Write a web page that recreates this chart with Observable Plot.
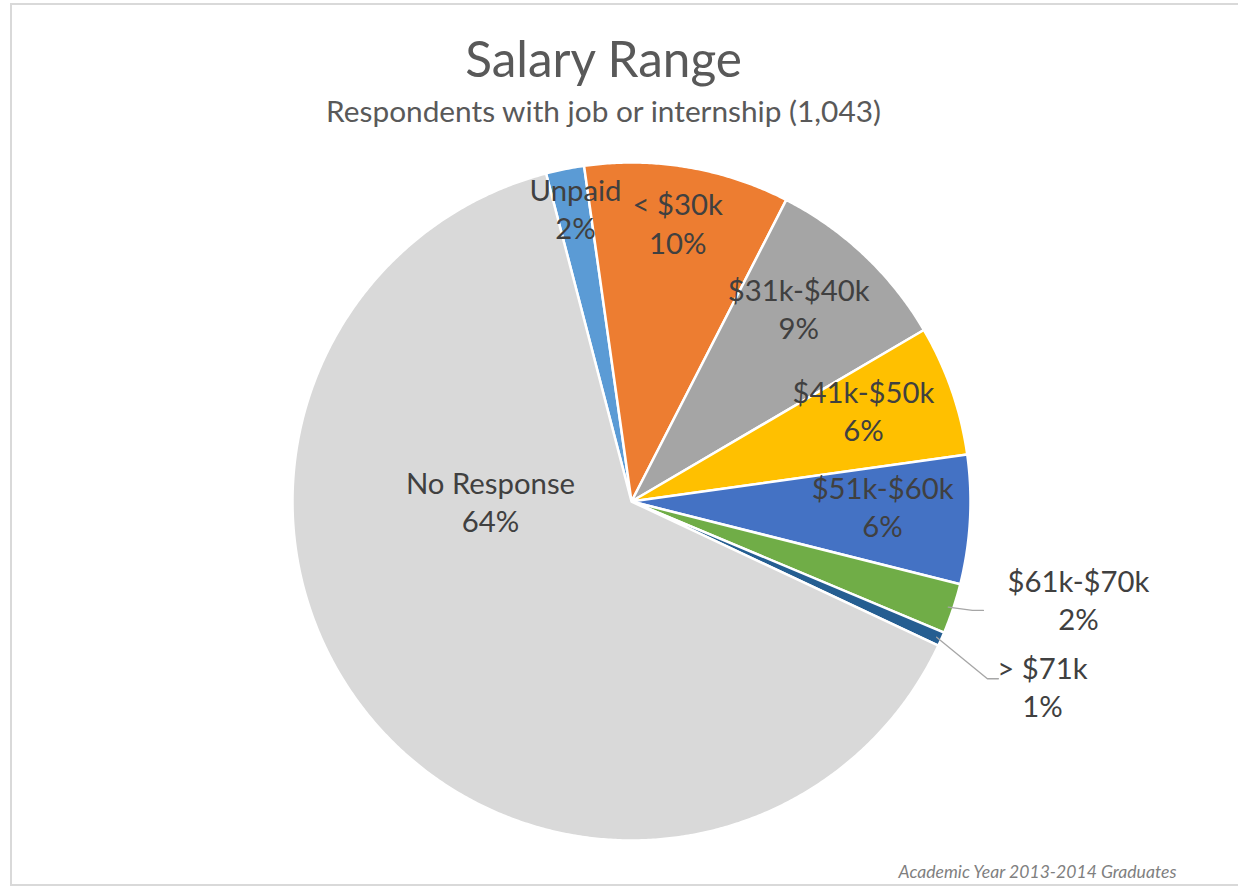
<!DOCTYPE html>
<html><head><meta charset="utf-8">
<script src="https://cdn.jsdelivr.net/npm/d3@7"></script>
<script src="https://cdn.jsdelivr.net/npm/@observablehq/plot@0.6"></script>
<style>
body{margin:0;background:#fff}
#wrap{position:relative;width:1238px;height:890px;overflow:hidden}
#border{position:absolute;left:10px;top:3px;width:1260px;height:883px;border:2px solid #d9d9d9;box-sizing:border-box;pointer-events:none}
#chart{position:absolute;left:0;top:0}
</style>
</head><body>
<div id="wrap"><div id="chart"></div><div id="border"></div></div>
<script>
// ---- data ----
const categories = ["Unpaid", "< $30k", "$31k-$40k", "$41k-$50k", "$51k-$60k", "$61k-$70k", "> $71k", "No Response"];
const counts = [19, 102, 94, 65, 64, 25, 7, 667]; // total 1,043
const percentLabels = ["2%", "10%", "9%", "6%", "6%", "2%", "1%", "64%"];
const colors = ["#5b9bd5", "#ed7d31", "#a5a5a5", "#ffc000", "#4472c4", "#70ad47", "#255e91", "#d9d9d9"];
const titleText = "Salary Range";
const subtitleText = "Respondents with job or internship (1,043)";
const captionText = "Academic Year 2013-2014 Graduates";

// ---- layout (label placement: radius fraction, angle in degrees clockwise from top) ----
const startAngleDeg = -14.6;
const labelPlacement = [
  {r: 0.873, a: -10.9}, {r: 0.826, a: 9.5}, {r: 0.749, a: 41.2}, {r: 0.733, a: 69.0},
  {r: 0.741, a: 91.6}, {r: 1.351, a: 102.6}, {r: 1.332, a: 114.5}, {r: 0.416, a: 269.2}
];
// leader lines (pixel offsets from label centre to elbow and end) for outside labels
const leaders = [
  {i: 5, elbow: [-106, 9], end: [-95, 9]},
  {i: 6, elbow: [-55, -10], end: [-44, -10]}
];

const R = 339; // px per unit
const toRad = d => d * Math.PI / 180;
const pt = (a, r) => [r * Math.sin(a), r * Math.cos(a)];

const pie = d3.pie().sort(null).value(d => d)
  .startAngle(toRad(startAngleDeg)).endAngle(toRad(startAngleDeg + 360));
const arcs = pie(counts);

const slices = arcs.map((a, i) => {
  const ring = [[0, 0]];
  const n = Math.max(4, Math.ceil((a.endAngle - a.startAngle) / toRad(0.4)));
  for (let k = 0; k <= n; k++) ring.push(pt(a.startAngle + (a.endAngle - a.startAngle) * k / n, 1));
  ring.push([0, 0]);
  return {type: "Feature", properties: {name: categories[i], color: colors[i]},
          geometry: {type: "Polygon", coordinates: [ring]}};
});

const labels = arcs.map((a, i) => {
  const p = labelPlacement[i];
  const [x, y] = pt(toRad(p.a), p.r);
  return {x, y, text: categories[i] + "\n" + percentLabels[i]};
});

const leaderPts = [];
leaders.forEach(L => {
  const a = arcs[L.i];
  const mid = (a.startAngle + a.endAngle) / 2;
  const s = pt(mid, 0.985);
  const lab = labels[L.i];
  leaderPts.push({k: L.i, x: s[0], y: s[1]});
  leaderPts.push({k: L.i, x: lab.x + L.elbow[0] / R, y: lab.y - L.elbow[1] / R});
  leaderPts.push({k: L.i, x: lab.x + L.end[0] / R, y: lab.y - L.end[1] / R});
});

const font = "Lato, 'Open Sans', sans-serif";

const chart = Plot.plot({
  width: 1238,
  height: 890,
  marginLeft: 292,
  marginRight: 1238 - 970,
  marginTop: 162,
  marginBottom: 890 - 840,
  style: {fontFamily: font, background: "transparent", overflow: "visible"},
  projection: {type: "reflect-y", clip: false, domain: {type: "MultiPoint", coordinates: [[-1, -1], [1, 1]]}},
  marks: [
    Plot.geo(slices, {fill: d => d.properties.color, stroke: "#ffffff", strokeWidth: 2.5, strokeLinejoin: "round"}),
    Plot.line(leaderPts, {x: "x", y: "y", z: "k", stroke: "#a6a6a6", strokeWidth: 1.3, clip: false}),
    Plot.text(labels, {x: "x", y: "y", text: "text", dy: -3, fontSize: 29.3, lineHeight: 1.3, fill: "#404040", clip: false}),
    Plot.text([titleText], {frameAnchor: "top", dx: -28, dy: 60.5 - 162, fontSize: 49.5, fill: "#595959", lineAnchor: "middle"}),
    Plot.text([subtitleText], {frameAnchor: "top", dx: -28, dy: 112 - 162, fontSize: 29.8, fill: "#595959", lineAnchor: "middle"}),
    Plot.text([captionText], {frameAnchor: "top", dx: 1037 - 631, dy: 872 - 162, fontSize: 17.6, fontStyle: "italic", fill: "#7f7f7f", lineAnchor: "middle"})
  ]
});
document.getElementById("chart").appendChild(chart);
</script>
</body></html>
